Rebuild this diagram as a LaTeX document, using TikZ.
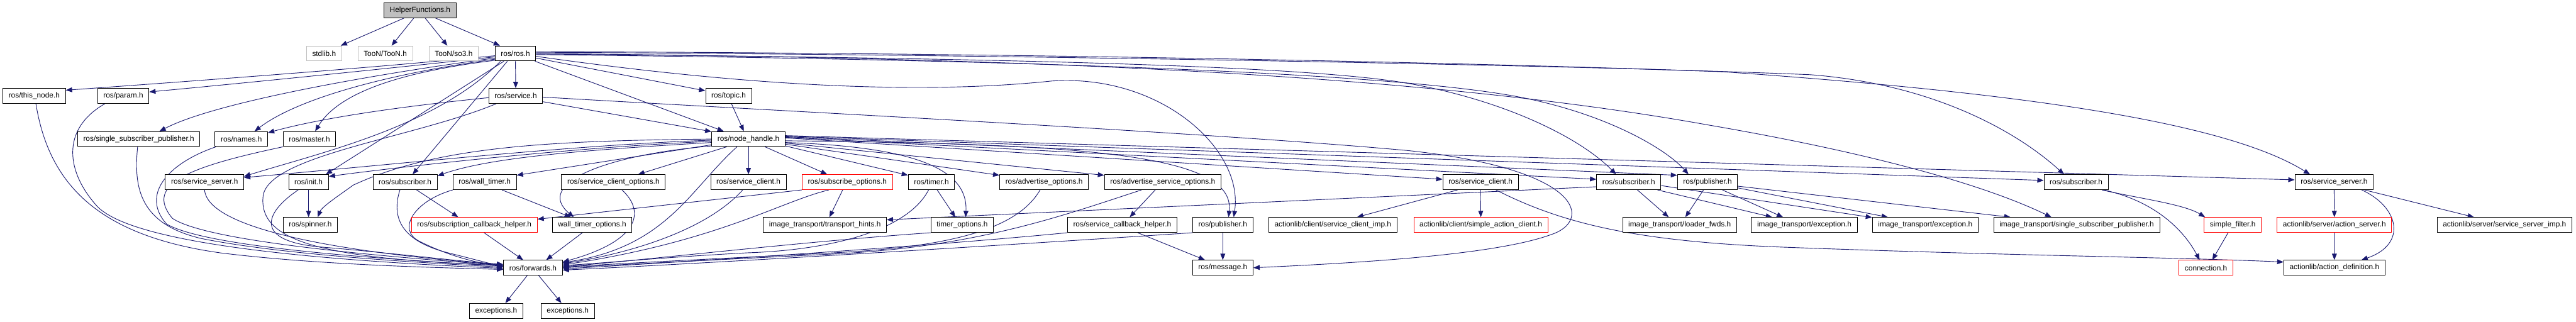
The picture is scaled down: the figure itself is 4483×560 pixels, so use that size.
\documentclass[tikz,border=0pt]{standalone}
\usepackage{fontspec}
\setmainfont{Liberation Sans}
\usetikzlibrary{arrows.meta,backgrounds}
\definecolor{edgeblue}{HTML}{191970}
\definecolor{nodegray}{HTML}{BFBFBF}
\begin{document}
\begin{tikzpicture}[x=1pt,y=-1pt,
  box/.style={draw=black, line width=1.1pt, fill=white, minimum height=26pt, inner xsep=10pt, inner ysep=0pt, font=\fontsize{13pt}{15pt}\selectfont},
  graybox/.style={box, draw=nodegray},
  redbox/.style={box, draw=red},
  rootbox/.style={box, fill=nodegray},
  e/.style={draw=edgeblue, line width=1pt, -{Triangle[length=11pt,width=8.5pt]}}]
\useasboundingbox (0,0) rectangle (4483,560);
% row 0
\node[rootbox] (HF) at (731,18) {HelperFunctions.h};
% row 1
\node[graybox] (stdlib) at (564,93) {stdlib.h};
\node[graybox] (toon) at (670.5,93) {TooN/TooN.h};
\node[graybox] (so3) at (789.5,93) {TooN/so3.h};
\node[box] (ros) at (897,93) {ros/ros.h};
% row 2
\node[box] (thisnode) at (59.5,167) {ros/this\_node.h};
\node[box] (param) at (214.5,167) {ros/param.h};
\node[box] (service) at (897.5,167) {ros/service.h};
\node[box] (topic) at (1268,167) {ros/topic.h};
% row 3
\node[box] (ssp) at (241.5,242) {ros/single\_subscriber\_publisher.h};
\node[box] (names) at (420,242) {ros/names.h};
\node[box] (master) at (538.5,242) {ros/master.h};
\node[box] (nh) at (1302.5,242) {ros/node\_handle.h};
% row 4
\node[box] (ssA) at (356,317) {ros/service\_server.h};
\node[box] (init) at (537,317) {ros/init.h};
\node[box] (subA) at (705,317) {ros/subscriber.h};
\node[box] (walltimer) at (843.5,317) {ros/wall\_timer.h};
\node[box] (sco) at (1067.5,317) {ros/service\_client\_options.h};
\node[box] (scA) at (1302.5,317) {ros/service\_client.h};
\node[redbox] (subopts) at (1474.5,317) {ros/subscribe\_options.h};
\node[box] (timer) at (1621,317) {ros/timer.h};
\node[box] (advopts) at (1817,317) {ros/advertise\_options.h};
\node[box] (advsrvopts) at (2023.5,317) {ros/advertise\_service\_options.h};
\node[box] (scB) at (2576.5,317) {ros/service\_client.h};
\node[box] (subB) at (2834.5,317) {ros/subscriber.h};
\node[box] (pubA) at (2971.5,317) {ros/publisher.h};
\node[box] (subC) at (3613,317) {ros/subscriber.h};
\node[box] (ssB) at (4062,317) {ros/service\_server.h};
% row 5
\node[box] (spinner) at (540,391.5) {ros/spinner.h};
\node[redbox] (sch) at (825.5,391.5) {ros/subscription\_callback\_helper.h};
\node[box] (wto) at (1030.5,391.5) {wall\_timer\_options.h};
\node[box] (hints) at (1435.5,391.5) {image\_transport/transport\_hints.h};
\node[box] (timeropts) at (1674.5,391.5) {timer\_options.h};
\node[box] (scbh) at (1953,391.5) {ros/service\_callback\_helper.h};
\node[box] (pubB) at (2128,391.5) {ros/publisher.h};
\node[box] (scimp) at (2319.5,391.5) {actionlib/client/service\_client\_imp.h};
\node[redbox] (sac) at (2577,391.5) {actionlib/client/simple\_action\_client.h};
\node[box] (loader) at (2923,391.5) {image\_transport/loader\_fwds.h};
\node[box] (excA) at (3140,391.5) {image\_transport/exception.h};
\node[box] (excB) at (3350.5,391.5) {image\_transport/exception.h};
\node[box] (itssp) at (3614,391.5) {image\_transport/single\_subscriber\_publisher.h};
\node[redbox] (filter) at (3885.5,391.5) {simple\_filter.h};
\node[redbox] (actsrv) at (4062.5,391.5) {actionlib/server/action\_server.h};
\node[box] (ssimp) at (4358.5,391.5) {actionlib/server/service\_server\_imp.h};
% row 6
\node[box] (fwd) at (927.5,466) {ros/forwards.h};
\node[box] (msg) at (2128,466) {ros/message.h};
\node[redbox] (conn) at (3839,466) {connection.h};
\node[box] (actdef) at (4062.5,466) {actionlib/action\_definition.h};
% row 7
\node[box] (exA) at (863.5,541) {exceptions.h};
\node[box] (exB) at (988,541) {exceptions.h};

\begin{scope}[on background layer]
\fill[white] (0,0) rectangle (4483,560);
% HelperFunctions
\draw[e] ([xshift=-28pt]HF.south) -- ([xshift=29pt]stdlib.north);
\draw[e] ([xshift=-11pt]HF.south) -- ([xshift=11pt]toon.north);
\draw[e] ([xshift=9pt]HF.south) -- ([xshift=-11pt]so3.north);
\draw[e] ([xshift=27pt]HF.south) -- ([xshift=-27pt]ros.north);
% ros/ros.h
\draw[e] ([yshift=-4pt]ros.west) .. controls (650,118) and (350,140) .. ([yshift=10pt]thisnode.east);
\draw[e] ([yshift=-6pt]ros.west) .. controls (650,122) and (420,145) .. ([yshift=7pt]param.east);
\draw[e] ([yshift=-8pt]ros.west) .. controls (680,125) and (380,175) .. ([xshift=36pt]ssp.north);
\draw[e] ([yshift=-10pt]ros.west) .. controls (680,128) and (520,170) .. ([xshift=23pt]names.north);
\draw[e] ([yshift=-12pt]ros.west) .. controls (700,125) and (590,160) .. ([xshift=10pt]master.north);
\draw[e] (ros.south) -- (service.north);
\draw[e] ([yshift=-8pt]ros.east) -- ([yshift=9pt]topic.west);
\draw[e] ([xshift=34pt]ros.south) -- ([xshift=-43pt]nh.north);
\draw[e] ([xshift=-20pt]ros.south) -- ([xshift=30pt]init.north);
\draw[e] ([xshift=-14pt]ros.south) -- ([xshift=13pt]subA.north);
\draw[e] ([xshift=-26pt]ros.south) .. controls (760,220) and (560,265) .. ([yshift=10pt]ssA.east);
\draw[e] ([yshift=-5pt]ros.east) .. controls (1300,150) and (1600,165) .. (1830,141) .. controls (2020,128) and (2165,260) .. ([xshift=19pt]pubB.north);
\draw[e] ([yshift=-1pt]ros.east) .. controls (1600,100) and (2250,110) .. (2450,145) .. controls (2620,175) and (2750,240) .. ([xshift=-22pt]subB.north);
\draw[e] ([yshift=-2pt]ros.east) .. controls (1600,102) and (2400,120) .. (2650,170) .. controls (2800,200) and (2900,260) .. ([xshift=-33pt]pubA.north);
\draw[e] (ros.east) .. controls (1600,100) and (2400,115) .. (2970,217) .. controls (3250,265) and (3450,320) .. ([xshift=-44pt]itssp.north);
\draw[e] ([yshift=2pt]ros.east) .. controls (1800,95) and (2800,115) .. (3150,130) .. controls (3350,145) and (3500,220) .. ([xshift=-21pt]subC.north);
\draw[e] ([yshift=3pt]ros.east) .. controls (1800,92) and (2600,110) .. (3000,125) .. controls (3500,160) and (3870,210) .. ([xshift=-42pt]ssB.north);
% ros/service.h
\draw[e] ([yshift=-3pt]service.west) .. controls (700,185) and (560,205) .. ([yshift=11pt]names.east);
\draw[e] ([xshift=-34pt]service.south) .. controls (720,240) and (470,270) .. (458,340) .. controls (448,420) and (560,450) .. ([yshift=4pt]fwd.west);
\draw[e] ([yshift=-10pt]service.east) -- ([yshift=13pt]nh.west);
\draw[e] ([yshift=-2pt]service.east) .. controls (1300,190) and (2100,230) .. (2450,262) .. controls (2760,295) and (2770,385) .. (2700,408) .. controls (2600,445) and (2350,458) .. (msg.east);
% ros/topic.h
\draw[e] ([xshift=5pt]topic.south) -- ([xshift=-8pt]nh.north);
% into forwards from the left
\draw[e] ([xshift=3pt]thisnode.south) .. controls (85,320) and (170,410) .. (383,440) .. controls (560,462) and (780,466) .. ([yshift=-3pt]fwd.west);
\draw[e] ([xshift=-32pt]param.south) .. controls (105,225) and (115,300) .. (170,360) .. controls (240,430) and (600,455) .. ([yshift=-1pt]fwd.west);
\draw[e] ([xshift=-2pt]ssp.south) .. controls (232,330) and (245,390) .. (350,415) .. controls (500,445) and (750,458) .. ([yshift=1pt]fwd.west);
\draw[e] ([xshift=2pt]names.south west) .. controls (290,285) and (245,340) .. (290,390) .. controls (360,430) and (650,450) .. ([yshift=3pt]fwd.west);
\draw[e] (master.south west) .. controls (330,290) and (250,320) .. (300,380) .. controls (360,420) and (650,445) .. ([yshift=4pt]fwd.west);
\draw[e] (ssA.south) .. controls (362,400) and (600,440) .. ([yshift=5pt]fwd.west);
\draw[e] ([xshift=-18pt]init.south) .. controls (460,370) and (440,420) .. (560,430) .. controls (680,440) and (800,455) .. ([yshift=6pt]fwd.west);
\draw[e] (init.south) -- ([xshift=-3pt]spinner.north);
\draw[e] ([xshift=-9pt]subA.south) .. controls (680,380) and (700,420) .. (780,440) .. controls (820,450) and (850,458) .. ([yshift=2pt]fwd.west);
\draw[e] ([xshift=20pt]subA.south) -- ([xshift=-28pt]sch.north);
\draw[e] (walltimer.south west) .. controls (720,350) and (690,400) .. (730,420) .. controls (780,445) and (830,458) .. ([yshift=3pt]fwd.west);
\draw[e] ([xshift=30pt]walltimer.south) -- ([xshift=-37pt]wto.north);
\draw[e] ([xshift=17pt]sch.south) -- ([xshift=-17pt]fwd.north);
\draw[e] ([xshift=-17pt]wto.south) -- ([xshift=23pt]fwd.north);
% into forwards from the right
\draw[e] ([xshift=15pt]sco.south) .. controls (1125,370) and (1110,420) .. ([yshift=10pt]fwd.east);
\draw[e] ([xshift=-10pt]scA.south) .. controls (1230,400) and (1100,440) .. ([yshift=7pt]fwd.east);
\draw[e] ([xshift=-32pt]subopts.south) .. controls (1360,350) and (1250,420) .. ([yshift=5pt]fwd.east);
\draw[e] (subopts.south west) -- ([yshift=10pt]sch.east);
\draw[e] ([xshift=-8pt]subopts.south) -- ([xshift=8pt]hints.north);
\draw[e] ([xshift=-5pt]timer.south) .. controls (1580,400) and (1450,435) .. (1300,440) .. controls (1150,448) and (1050,458) .. ([yshift=4pt]fwd.east);
\draw[e] ([xshift=10pt]timer.south) -- ([xshift=-12pt]timeropts.north);
\draw[e] (timeropts.south west) .. controls (1400,420) and (1100,455) .. ([yshift=2pt]fwd.east);
\draw[e] ([xshift=-7pt]advopts.south) .. controls (1770,400) and (1650,430) .. (1450,440) .. controls (1250,450) and (1050,460) .. ([yshift=1pt]fwd.east);
\draw[e] ([xshift=-37pt]advsrvopts.south) .. controls (1850,375) and (1700,430) .. (1450,442) .. controls (1250,452) and (1050,462) .. (fwd.east);
\draw[e] ([xshift=-13pt]advsrvopts.south) -- ([xshift=13pt]scbh.north);
\draw[e] (scbh.south west) .. controls (1600,430) and (1200,455) .. ([yshift=-2pt]fwd.east);
\draw[e] ([xshift=27pt]scbh.south) -- ([xshift=-31pt]msg.north);
\draw[e] (pubB.south) -- (msg.north);
\draw[e] (pubB.south west) .. controls (1700,430) and (1200,460) .. ([yshift=-4pt]fwd.east);
% ros/node_handle.h
\draw[e] ([yshift=-2pt]nh.west) .. controls (1000,252) and (700,285) .. ([yshift=8pt]ssA.east);
\draw[e] ([yshift=-4pt]nh.west) .. controls (1000,256) and (700,290) .. ([yshift=10pt]init.east);
\draw[e] ([yshift=-6pt]nh.west) .. controls (1000,262) and (850,275) .. ([yshift=11pt]subA.east);
\draw[e] (nh.west) .. controls (950,245) and (760,255) .. (615,322) .. controls (590,340) and (560,360) .. ([xshift=13pt]spinner.north);
\draw[e] ([yshift=-10pt]nh.west) -- ([yshift=12pt]walltimer.east);
\draw[e] ([yshift=-12pt]nh.west) .. controls (1050,270) and (930,320) .. ([xshift=-32pt]wto.north);
\draw[e] ([xshift=-38pt]nh.south) -- ([xshift=43pt]sco.north);
\draw[e] (nh.south) -- (scA.north);
\draw[e] ([xshift=29pt]nh.south) -- ([xshift=-35pt]subopts.north);
\draw[e] ([xshift=-20pt]nh.south) .. controls (1200,330) and (1160,430) .. ([yshift=9pt]fwd.east);
\draw[e] ([yshift=-12pt]nh.east) -- ([yshift=12pt]timer.west);
\draw[e] ([yshift=-6pt]nh.east) .. controls (1580,255) and (1685,290) .. ([xshift=6pt]timeropts.north);
\draw[e] ([yshift=-9pt]nh.east) -- ([yshift=12pt]advopts.west);
\draw[e] ([yshift=-7pt]nh.east) -- ([yshift=12pt]advsrvopts.west);
\draw[e] ([yshift=-3pt]nh.east) .. controls (1900,250) and (2150,270) .. ([xshift=10pt]pubB.north);
\draw[e] ([yshift=2pt]nh.east) -- ([yshift=5pt]scB.west);
\draw[e] ([yshift=3pt]nh.east) -- ([yshift=5pt]subB.west);
\draw[e] ([yshift=4pt]nh.east) -- ([yshift=12pt]pubA.west);
\draw[e] ([yshift=5pt]nh.east) -- ([yshift=3pt]subC.west);
\draw[e] ([yshift=6pt]nh.east) -- ([yshift=4pt]ssB.west);
% right part
\draw[e] ([yshift=-8pt]subB.west) -- ([yshift=9pt]hints.east);
\draw[e] ([xshift=15pt]subB.south) -- ([xshift=-19pt]loader.north);
\draw[e] ([xshift=50pt]subB.south) -- ([xshift=-56pt]excA.north);
\draw[e] ([yshift=-6pt]subB.east) -- ([yshift=13pt]excB.west);
\draw[e] ([xshift=-7pt]pubA.south) -- ([xshift=10pt]loader.north);
\draw[e] ([xshift=26pt]pubA.south) -- ([xshift=-37pt]excA.north);
\draw[e] ([yshift=-10pt]pubA.east) -- ([xshift=-65pt]excB.north);
\draw[e] ([yshift=-7pt]pubA.east) -- ([xshift=-115pt]itssp.north);
\draw[e] ([xshift=-40pt]scB.south) -- ([xshift=42pt]scimp.north);
\draw[e] (scB.south) -- (sac.north);
\draw[e] ([xshift=27pt]scB.south) .. controls (2720,390) and (2850,420) .. (3100,430) .. controls (3500,445) and (3800,448) .. ([yshift=10pt]actdef.west);
\draw[e] ([xshift=45pt]subC.south) .. controls (3720,345) and (3800,355) .. ([xshift=-48pt]filter.north);
\draw[e] ([xshift=48pt]subC.south) .. controls (3750,350) and (3800,400) .. ([xshift=-11pt]conn.north);
\draw[e] ([xshift=-8pt]filter.south) -- ([xshift=11pt]conn.north);
\draw[e] (ssB.south) -- (actsrv.north);
\draw[e] ([xshift=48pt]ssB.south) .. controls (4175,360) and (4190,425) .. ([xshift=47pt]actdef.north);
\draw[e] ([xshift=53pt]ssB.south) -- ([xshift=-53pt]ssimp.north);
\draw[e] (actsrv.south) -- (actdef.north);
\draw[e] ([xshift=-10pt]fwd.south) -- ([xshift=16pt]exA.north);
\draw[e] ([xshift=10pt]fwd.south) -- ([xshift=-11pt]exB.north);
\end{scope}
\end{tikzpicture}
\end{document}
